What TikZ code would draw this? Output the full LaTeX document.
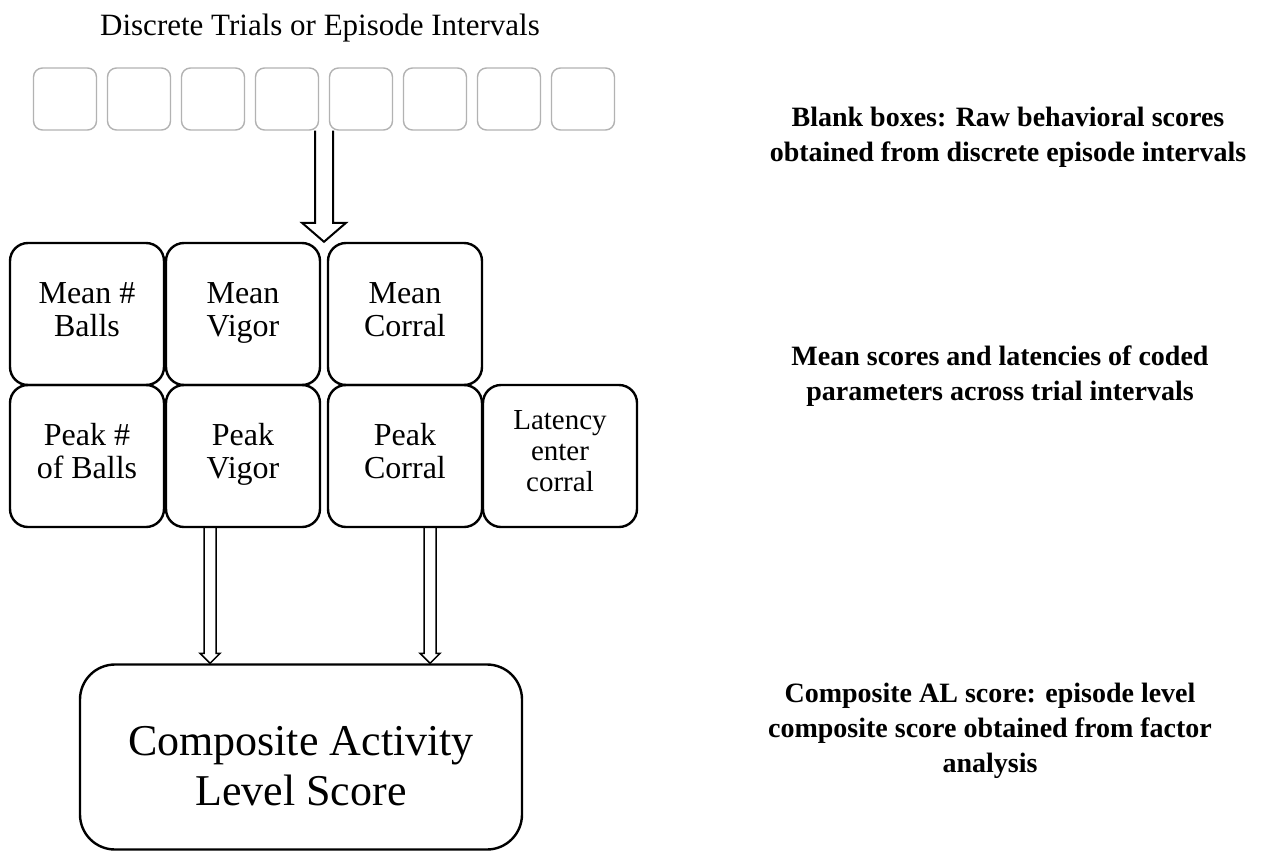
\documentclass[tikz,border=0pt]{standalone}
\usepackage{fontspec}
\setmainfont{Liberation Serif}
\usetikzlibrary{calc}

\tikzset{
  blank/.style={draw=gray!60, line width=1.4pt, rounded corners=9pt,
    minimum width=63pt, minimum height=62pt},
  cell/.style={draw, line width=2.4pt, rounded corners=18pt, align=center,
    minimum width=154pt, minimum height=142pt,
    font=\fontsize{32}{33}\selectfont,
    execute at begin node=\strut, execute at end node=\strut},
  note/.style={align=center, font=\fontsize{28}{35}\selectfont\bfseries},
  hollow/.style={draw, line join=miter},
}

% hollow block arrow: [line width] start, end, half shaft, half head, head length
\newcommand{\hollowarrow}[6][2pt]{%
  \draw[hollow, line width=#1] let \p1=(#2), \p2=(#3) in
    (\x1-#4,\y1) -- (\x1-#4,\y2+#6) -- (\x1-#5,\y2+#6) -- (\x1,\y2)
    -- (\x1+#5,\y2+#6) -- (\x1+#4,\y2+#6) -- (\x1+#4,\y1);}

\begin{document}
\begin{tikzpicture}[x=1pt, y=-1pt]
    \useasboundingbox (0,0) rectangle (1261,854);

    \node[font=\fontsize{31}{32}\selectfont] at (320, 28) (title) {Discrete Trials or Episode Intervals};

    % trial boxes
    \foreach \i in {1,...,8}
        \node[blank] at ({65+74*(\i-1)}, 99) (b\i) {};

    % parameter cells
    \node[cell] at (87, 314) (mball) {Mean \#\\Balls};
    \node[cell] at (243, 314) (mvig) {Mean\\Vigor};
    \node[cell] at (405, 314) (mcor) {Mean\\Corral};
    \node[cell] at (87, 456) (pball) {Peak \#\\of Balls};
    \node[cell] at (243, 456) (pvig) {Peak\\Vigor};
    \node[cell] at (405, 456) (pcor) {Peak\\Corral};
    \node[cell, font=\fontsize{29}{31}\selectfont] at (560, 456) (lat) {Latency\\enter\\corral};

    \node[draw, line width=2.4pt, rounded corners=35pt, minimum width=442pt, minimum height=185pt,
        align=center, font=\fontsize{44}{50}\selectfont] at (301, 757) (comp)
        {\rule{0pt}{47pt}Composite Activity\\Level Score};

    % notes
    \node[note] at (1008, 137) (n1) {Blank boxes: Raw behavioral scores\\obtained from discrete episode intervals};
    \node[note] at (1000, 376) (n2) {Mean scores and latencies of coded\\parameters across trial intervals};
    \node[note] at (990, 731) (n3) {Composite AL score: episode level\\composite score obtained from factor\\analysis};

    % arrows
    \hollowarrow{$(b4.south east)!0.5!(b5.south west)$}{mvig.north east}{9pt}{22pt}{19pt}
    \hollowarrow[1.5pt]{$(pvig.south)+(-33,0)$}{comp.north}{6pt}{10pt}{10pt}
    \hollowarrow[1.5pt]{$(pcor.south)+(25,0)$}{comp.north}{6pt}{10pt}{10pt}
\end{tikzpicture}
\end{document}
